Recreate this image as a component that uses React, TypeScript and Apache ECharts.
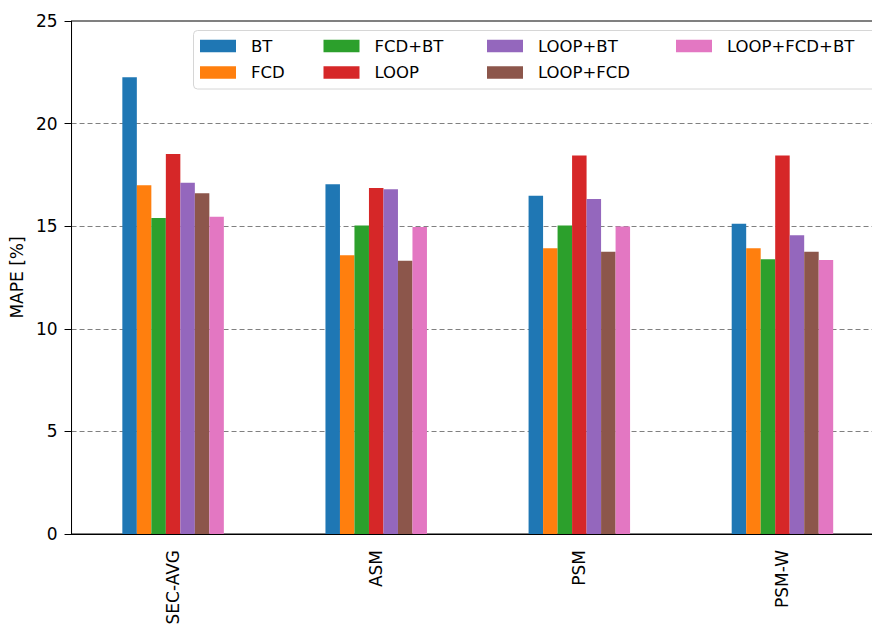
import React, { useEffect, useRef } from "react";
import * as echarts from "echarts";

const categories = ["SEC-AVG", "ASM", "PSM", "PSM-W"];
const seriesNames = ["BT", "FCD", "FCD+BT", "LOOP", "LOOP+BT", "LOOP+FCD", "LOOP+FCD+BT"];
const colors = ["#1f77b4", "#ff7f0e", "#2ca02c", "#d62728", "#9467bd", "#8c564b", "#e377c2"];

const bt = [22.26, 17.04, 16.49, 15.12];
const fcd = [17.0, 13.58, 13.92, 13.92];
const fcdBt = [15.4, 15.04, 15.04, 13.39];
const loop = [18.52, 16.86, 18.45, 18.45];
const loopBt = [17.12, 16.8, 16.33, 14.56];
const loopFcd = [16.6, 13.32, 13.76, 13.76];
const loopFcdBt = [15.46, 14.96, 14.98, 13.35];

const seriesValues = [bt, fcd, fcdBt, loop, loopBt, loopFcd, loopFcdBt];
const yTicks = [0, 5, 10, 15, 20, 25];

const FONT = "DejaVu Sans";
const FS = 17;

export default function App() {
  const ref = useRef<HTMLDivElement>(null);

  useEffect(() => {
    if (!ref.current) return;
    const chart = echarts.init(ref.current, null, { renderer: "svg" });

    // legend laid out column by column, two entries per column
    const legendColumns = [
      { left: 200, names: [seriesNames[0], seriesNames[1]] },
      { left: 323.5, names: [seriesNames[2], seriesNames[3]] },
      { left: 487, names: [seriesNames[4], seriesNames[5]] },
      { left: 676, names: [seriesNames[6]] },
    ];

    chart.setOption({
      animation: false,
      color: colors,
      textStyle: { fontFamily: FONT },
      grid: {
        left: 70,
        top: 21,
        width: 814,
        height: 513,
        show: true,
        borderColor: "#000",
        borderWidth: 1,
      },
      graphic: [
        {
          type: "rect",
          shape: { x: 193.5, y: 30.5, width: 700, height: 58.5, r: 4 },
          style: { fill: "rgba(255,255,255,0.8)", stroke: "#d6d6d6", lineWidth: 1 },
          z: 3,
        },
      ],
      legend: legendColumns.map((col) => ({
        orient: "vertical",
        left: col.left,
        top: 37.6,
        padding: 0,
        itemWidth: 36,
        itemHeight: 12.5,
        itemGap: 9.4,
        icon: "rect",
        data: col.names,
        selectedMode: false,
        textStyle: {
          fontFamily: FONT,
          fontSize: 16.5,
          lineHeight: 14,
          color: "#000",
          padding: [0, 0, 0, 10],
        },
        z: 4,
      })),
      xAxis: {
        type: "category",
        data: categories,
        axisLine: { lineStyle: { color: "#000", width: 1 } },
        axisTick: { alignWithLabel: true, length: 7, lineStyle: { color: "#000" } },
        axisLabel: {
          rotate: 90,
          fontFamily: FONT,
          fontSize: FS,
          color: "#000",
          margin: 16,
        },
        splitLine: { show: false },
      },
      yAxis: {
        type: "value",
        min: yTicks[0],
        max: yTicks[yTicks.length - 1],
        interval: 5,
        name: "MAPE [%]",
        nameLocation: "middle",
        nameRotate: 90,
        nameGap: 45,
        nameTextStyle: { fontFamily: FONT, fontSize: FS, color: "#000" },
        axisLine: { show: true, lineStyle: { color: "#000", width: 1 } },
        axisTick: { show: true, length: 7, lineStyle: { color: "#000" } },
        axisLabel: { fontFamily: FONT, fontSize: FS, color: "#000", margin: 14 },
        splitLine: {
          show: true,
          lineStyle: { color: "#808080", type: [5, 3], width: 1 },
        },
      },
      series: seriesNames.map((name, i) => ({
        name,
        type: "bar",
        data: seriesValues[i],
        barWidth: 14.5,
        barGap: "0%",
        itemStyle: { color: colors[i] },
      })),
    });

    return () => chart.dispose();
  }, []);

  // the plot runs a little past the right edge of the window
  return (
    <div
      ref={ref}
      style={{ position: "fixed", left: 0, top: 0, width: 888, height: 628, background: "#fff" }}
    />
  );
}
